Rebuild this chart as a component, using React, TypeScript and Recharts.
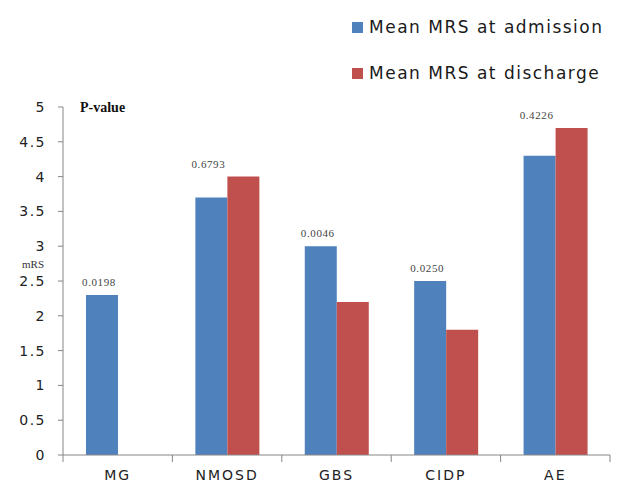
import React from "react";
import {
  BarChart,
  Bar,
  XAxis,
  YAxis,
  Legend,
  LabelList,
} from "recharts";

const categories = ["MG", "NMOSD", "GBS", "CIDP", "AE"];
const admission = [2.3, 3.7, 3.0, 2.5, 4.3];
const discharge = [0, 4.0, 2.2, 1.8, 4.7];
const pValues = ["0.0198", "0.6793", "0.0046", "0.0250", "0.4226"];
const yTicks = [0, 0.5, 1, 1.5, 2, 2.5, 3, 3.5, 4, 4.5, 5];
const seriesNames = ["Mean MRS at admission", "Mean MRS at discharge"];

const BLUE = "#4F81BD";
const RED = "#C0504D";
const AXIS = "#868686";
const SANS = "'DejaVu Sans', Verdana, sans-serif";
const SERIF = "'Liberation Serif', 'Times New Roman', serif";
const X_TICK_SIZE = 6;
const X_TICK_MARGIN = 9;

const data = categories.map((name, i) => ({
  name,
  admission: admission[i],
  discharge: discharge[i],
  p: pValues[i],
}));

// p-value text sits above the taller bar of each pair
const renderPLabel = (props: any) => {
  const { x, y, width, height, index } = props;
  const adm = admission[index];
  const top = Math.max(adm, discharge[index]);
  const yTop = y + height - (top * height) / adm;
  return (
    <text
      x={x + width / 2 - 3}
      y={yTop - 9}
      textAnchor="middle"
      fontFamily={SERIF}
      fontSize={11}
      letterSpacing={0.6}
      fill="#444"
    >
      {pValues[index]}
    </text>
  );
};

// category label plus tick marks on the band boundaries (Excel style)
const CategoryTick = (props: any) => {
  const { x, y, payload, index, visibleTicksCount } = props;
  const half = payload.offset || 0;
  const axisY = y - X_TICK_SIZE - X_TICK_MARGIN;
  const last = index === visibleTicksCount - 1;
  return (
    <g>
      <line x1={x - half} x2={x - half} y1={axisY} y2={axisY + 7} stroke={AXIS} />
      {last && (
        <line x1={x + half} x2={x + half} y1={axisY} y2={axisY + 7} stroke={AXIS} />
      )}
      <text
        x={x}
        y={y}
        dy="0.71em"
        textAnchor="middle"
        fontFamily={SANS}
        fontSize={14}
        letterSpacing={2}
        fill="#222"
      >
        {payload.value}
      </text>
    </g>
  );
};

const renderLegend = () => (
  <div style={{ fontFamily: SANS, fontSize: 17, letterSpacing: 1.5, color: "#1a1a1a" }}>
    {seriesNames.map((n, i) => (
      <div
        key={n}
        style={{ display: "flex", alignItems: "center", height: 46 }}
      >
        <span
          style={{
            display: "inline-block",
            width: 11,
            height: 11,
            background: i === 0 ? BLUE : RED,
            marginRight: 6,
          }}
        />
        <span>{n}</span>
      </div>
    ))}
  </div>
);

export default function App() {
  return (
    <div style={{ position: "absolute", left: 0, top: 0, width: 618, height: 483, background: "#fff" }}>
      <BarChart
        width={618}
        height={483}
        data={data}
        margin={{ top: 107, right: 8, left: 0, bottom: 8 }}
        barCategoryGap="21%"
        barGap={0}
      >
        <XAxis
          dataKey="name"
          stroke={AXIS}
          tickLine={false}
          height={20}
          tickSize={X_TICK_SIZE}
          tickMargin={X_TICK_MARGIN}
          tick={<CategoryTick />}
          interval={0}
        />
        <YAxis
          domain={[0, 5]}
          ticks={yTicks}
          width={63}
          stroke={AXIS}
          tickSize={5}
          tickMargin={12}
          tick={{ fontFamily: SANS, fontSize: 14, letterSpacing: 1.5, fill: "#222" }}
        />
        <Legend
          layout="vertical"
          verticalAlign="middle"
          align="center"
          wrapperStyle={{ top: 4, left: 352 }}
          content={renderLegend}
        />
        <Bar dataKey="admission" fill={BLUE} isAnimationActive={false}>
          <LabelList dataKey="p" content={renderPLabel} />
        </Bar>
        <Bar dataKey="discharge" fill={RED} isAnimationActive={false} />
        <text x={80} y={112} fontFamily={SERIF} fontSize={14} fontWeight="bold" fill="#111">
          P-value
        </text>
        <text x={22} y={268} fontFamily={SERIF} fontSize={11} fill="#333">
          mRS
        </text>
      </BarChart>
    </div>
  );
}
